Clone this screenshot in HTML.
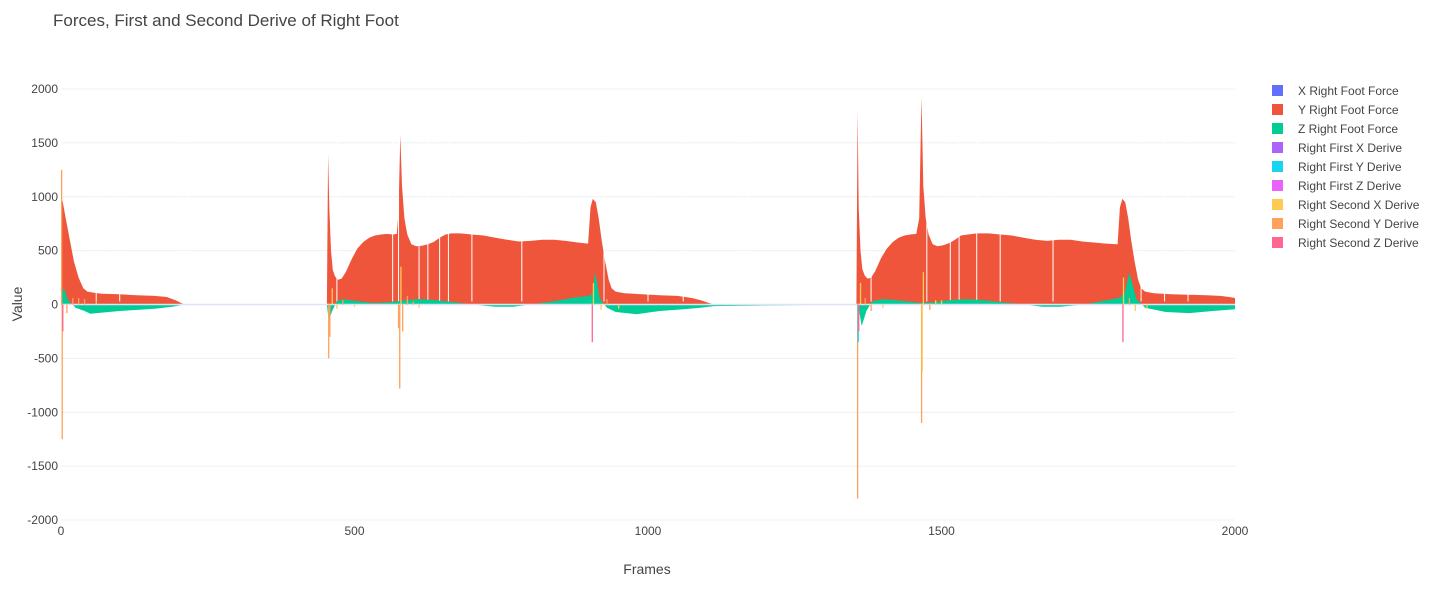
<!DOCTYPE html>
<html><head><meta charset="utf-8"><style>
body{margin:0;background:#fff;font-family:"Liberation Sans",sans-serif;}
svg text{font-family:"Liberation Sans",sans-serif;}
</style></head><body>
<svg id="chart" width="1451" height="591" xmlns="http://www.w3.org/2000/svg">
<text x="53" y="26" font-size="17" fill="#444">Forces, First and Second Derive of Right Foot</text>
<g id="grid"></g>
<g id="marks"></g>
<g id="axes"></g>
<text x="647" y="574" font-size="14" fill="#444" text-anchor="middle">Frames</text>
<text x="22" y="304" font-size="14" fill="#444" text-anchor="middle" transform="rotate(-90 22 304)">Value</text>
<g id="legend"></g>
</svg>
<script>
const yForceFrames=[0,3,8,15,22,30,38,45,55,70,100,130,160,180,195,210,
453,455,457,460,463,467,472,478,485,495,505,515,525,535,545,555,565,572,575,578,581,585,590,597,605,615,625,635,645,655,665,680,700,720,740,760,780,800,820,840,860,880,898,902,906,911,916,921,927,933,938,945,960,990,1020,1050,1075,1090,1100,1112,
1355,1357,1359,1362,1365,1369,1374,1380,1387,1397,1407,1417,1427,1437,1447,1457,1462,1466,1469,1473,1478,1485,1493,1503,1513,1523,1533,1545,1560,1580,1600,1620,1640,1660,1680,1700,1720,1740,1760,1780,1800,1804,1808,1813,1818,1823,1829,1835,1840,1847,1862,1892,1922,1952,1975,1990,2000];
const yForceValues=[1000,950,800,600,400,250,150,120,110,100,95,85,80,70,40,0,
0,1400,900,500,320,260,230,240,300,420,520,580,620,640,650,655,650,655,850,1570,1100,800,650,560,540,545,560,580,620,650,660,660,650,640,620,600,585,590,600,600,590,575,565,900,980,950,800,600,400,230,150,120,105,95,85,80,60,40,20,0,
0,1800,900,500,330,270,240,250,310,430,520,580,620,640,650,655,800,1930,1100,800,650,560,540,550,570,600,640,650,660,660,650,640,620,600,590,600,600,585,575,565,560,900,980,950,800,600,400,230,150,120,105,95,90,85,80,70,60];
const zForceFrames=[0,5,12,25,40,50,70,100,130,160,190,210,
453,456,462,470,480,500,530,560,585,610,640,670,700,740,770,800,840,870,900,905,910,918,930,945,980,1020,1060,1090,1112,
1355,1358,1364,1372,1382,1402,1432,1462,1487,1512,1542,1572,1602,1642,1672,1702,1742,1772,1802,1807,1812,1820,1832,1847,1882,1922,1962,2000];
const zForceValues=[100,150,40,-30,-60,-85,-75,-60,-50,-40,-20,0,
0,-150,-60,30,50,35,15,20,40,50,40,20,0,-20,-20,0,30,60,80,100,300,50,-30,-70,-90,-60,-45,-30,-15,0,
0,-200,-60,30,50,35,15,20,40,50,40,20,0,-20,-20,0,30,60,80,100,300,50,-30,-70,-80,-60,-45,-25];
const spikeFrames=[1,2,3,456,458,462,575,577,579,582,905,907,1357,1358,1359,1362,1466,1467,1469,1809,1810,20,40,470,600,920,1380,1490,1830,10,30,60,480,500,590,610,930,950,1370,1400,1480,1500,1820,1850];
const spikeValues=[1250,-1250,-250,-500,-300,150,-220,-780,350,-250,-350,200,-1800,-350,-250,200,-1100,-620,300,-350,250,60,50,-40,30,-50,-60,40,-60,-80,60,30,40,-20,80,-30,50,-40,60,-30,-50,40,60,-40];
const spikeSeries=[7,7,8,7,7,6,7,7,6,7,8,6,7,4,8,6,7,6,6,8,6,7,7,6,7,6,7,6,6,7,7,6,7,6,7,6,7,6,7,6,7,6,7,6];
const gapFrames=[60,100,200,217,470,565,575,610,625,645,660,700,785,925,1000,1060,1160,1170,1380,1475,1515,1530,1560,1600,1690,1840,1880,1920];
const xTicks=[0,500,1000,1500,2000];
const yTicks=[2000,1500,1000,500,0,-500,-1000,-1500,-2000];
const seriesNames=["X Right Foot Force","Y Right Foot Force","Z Right Foot Force","Right First X Derive","Right First Y Derive","Right First Z Derive","Right Second X Derive","Right Second Y Derive","Right Second Z Derive"];
const colors=["#636efa","#EF553B","#00cc96","#ab63fa","#19d3f3","#e763fa","#FECB52","#FFA15A","#ff6692"];
const NS="http://www.w3.org/2000/svg";
const X0=61,X1=1235,Y0=520,Y1=89;
const xs=f=>X0+(f/2000)*(X1-X0);
const ys=v=>Y0-((v+2000)/4000)*(Y0-Y1);
function mk(tag,attrs,parent){const e=document.createElementNS(NS,tag);for(const k in attrs)e.setAttribute(k,attrs[k]);parent.appendChild(e);return e;}
const grid=document.getElementById('grid'),axes=document.getElementById('axes'),marks=document.getElementById('marks'),legend=document.getElementById('legend');
yTicks.forEach(t=>{
 const l=mk('line',{x1:X0,x2:X1,y1:ys(t),y2:ys(t),stroke:'#ebf0f8','stroke-width':1},grid);
 
 
 const tx=mk('text',{x:58,y:ys(t)+4,'font-size':12,fill:'#444','text-anchor':'end'},axes);
 tx.textContent=t;
 
 
});
xTicks.forEach(t=>{
 const tx=mk('text',{x:xs(t),y:535,'font-size':12,fill:'#444','text-anchor':'middle'},axes);
 tx.textContent=t;
 
 
});
function area(fr,vals,color,name){
 let d='M'+xs(fr[0])+','+ys(0);
 for(let i=0;i<fr.length;i++)d+='L'+xs(fr[i]).toFixed(1)+','+ys(vals[i]).toFixed(1);
 d+='L'+xs(fr[fr.length-1])+','+ys(0)+'Z';
 const p=mk('path',{d:d,fill:color},marks);
 
 
}
area(yForceFrames,yForceValues,colors[1],'y-right-foot-force-bars');
gapFrames.forEach(f=>{
 const l=mk('line',{x1:xs(f),x2:xs(f),y1:Y1,y2:ys(0)-3,stroke:'#fff','stroke-width':1},marks);
 
 
});
area(zForceFrames,zForceValues,colors[2],'z-right-foot-force-bars');
mk('line',{x1:X0,x2:X1,y1:ys(0),y2:ys(0),stroke:'#dfe2f7','stroke-width':1.5},marks);
spikeFrames.forEach((f,i)=>{
 const v=spikeValues[i];
 const r=mk('rect',{x:xs(f)-0.6,y:Math.min(ys(v),ys(0)),width:1.3,height:Math.abs(ys(v)-ys(0)),fill:colors[spikeSeries[i]]},marks);
 
 
});
seriesNames.forEach((n,i)=>{
 const g=mk('g',{},legend);
 
 
 mk('rect',{x:1272,y:85+i*19,width:11,height:11,fill:colors[i]},g);
 const t=mk('text',{x:1298,y:95+i*19,'font-size':12,fill:'#444'},g);
 t.textContent=n;
});
</script>
</body></html>
